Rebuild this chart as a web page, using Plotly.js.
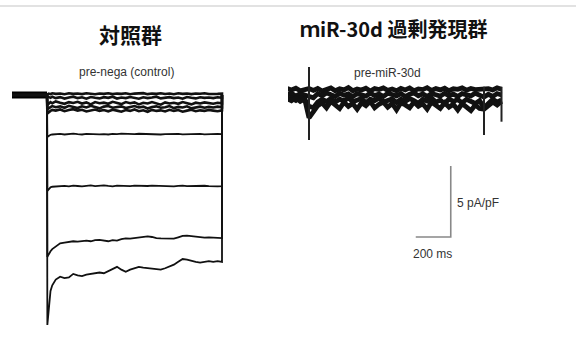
<!DOCTYPE html>
<html><head><meta charset="utf-8">
<script src="https://cdn.plot.ly/plotly-3.0.1.min.js"></script>
<style>html,body{margin:0;padding:0;background:#fff;}#chart{width:576px;height:339px;}</style>
</head><body><div id="chart"></div>
<script>
// ---- Data (time in ms, current density in pA/pF) ----
const holdT = [-200, 0];
const holdI = 0;
const endT = 1000;
// sample times during the depolarising step (control cell)
const stepT = [2,10,20,30,50,75,100,125,150,175,200,225,250,275,300,325,350,375,400,425,450,475,500,525,550,575,600,625,650,675,700,725,750,775,800,825,850,875,900,925,950,975,1000];

// control (pre-nega) current traces
const ctrl1 = [0.05,0.1,0.06,0.12,0.08,0.1,0.05,0.12,0.08,0.1, 0.06,0.12,0.09,0.05,0.11,0.08,0.12,0.06,0.1,0.08, 0.12,0.05,0.1,0.09,0.13,0.06,0.1,0.08,0.12,0.07, 0.1,0.05,0.12,0.08,0.1,0.06,0.11,0.09,0.12,0.07, 0.1,0.08,0.1];
const ctrl2 = [-0.1,-0.15,-0.2,-0.12,-0.22,-0.15,-0.25,-0.18,-0.12,-0.22, -0.16,-0.26,-0.14,-0.2,-0.24,-0.15,-0.2,-0.12,-0.25,-0.18, -0.22,-0.14,-0.2,-0.26,-0.16,-0.22,-0.18,-0.12,-0.24,-0.2, -0.15,-0.22,-0.18,-0.26,-0.14,-0.2,-0.24,-0.16,-0.2,-0.18, -0.22,-0.16,-0.2];
const ctrl3 = [-0.7,-0.6,-0.5,-0.58,-0.45,-0.55,-0.62,-0.5,-0.56,-0.48, -0.6,-0.52,-0.66,-0.5,-0.58,-0.54,-0.62,-0.48,-0.56,-0.64, -0.5,-0.58,-0.52,-0.66,-0.55,-0.6,-0.5,-0.58,-0.68,-0.52, -0.6,-0.55,-0.62,-0.5,-0.58,-0.66,-0.54,-0.6,-0.52,-0.58, -0.62,-0.55,-0.58];
const ctrl4 = [-1.0,-0.9,-0.85,-0.78,-0.86,-0.8,-0.9,-0.76,-0.84,-0.92, -0.8,-0.88,-0.76,-0.86,-0.94,-0.82,-0.78,-0.9,-0.84,-0.8, -0.92,-0.86,-0.78,-0.88,-0.82,-0.95,-0.84,-0.8,-0.9,-0.86, -0.78,-0.92,-0.84,-0.88,-0.8,-0.94,-0.86,-0.82,-0.9,-0.84, -0.88,-0.82,-0.86];
const ctrl5 = [-1.3,-1.2,-1.12,-1.05,-1.1,-1.02,-1.14,-1.06,-1.0,-1.1, -1.04,-1.16,-1.08,-1.02,-1.12,-1.06,-1.15,-1.04,-1.1,-1.18, -1.06,-1.12,-1.02,-1.14,-1.08,-1.18,-1.05,-1.12,-1.08,-1.16, -1.04,-1.12,-1.06,-1.18,-1.1,-1.04,-1.14,-1.08,-1.12,-1.06, -1.1,-1.14,-1.08];
const ctrl6 = [-2.95,-2.85,-2.8,-2.78,-2.76,-2.74,-2.78,-2.75,-2.72,-2.76, -2.78,-2.74,-2.76,-2.73,-2.77,-2.75,-2.78,-2.74,-2.76,-2.72, -2.75,-2.78,-2.76,-2.73,-2.75,-2.77,-2.74,-2.76,-2.78,-2.75, -2.73,-2.76,-2.74,-2.77,-2.75,-2.78,-2.76,-2.74,-2.77,-2.75, -2.76,-2.74,-2.76];
const ctrl7 = [-6.75,-6.6,-6.5,-6.46,-6.44,-6.42,-6.4,-6.43,-6.38,-6.41, -6.44,-6.4,-6.37,-6.42,-6.39,-6.36,-6.4,-6.43,-6.38,-6.41, -6.39,-6.42,-6.38,-6.4,-6.44,-6.41,-6.38,-6.4,-6.42,-6.39, -6.41,-6.44,-6.4,-6.38,-6.42,-6.4,-6.43,-6.41,-6.39,-6.42, -6.4,-6.43,-6.42];
const ctrl8 = [-11.4,-11.2,-11.0,-10.85,-10.65,-10.45,-10.4,-10.33,-10.3,-10.32, -10.28,-10.25,-10.3,-10.22,-10.2,-10.25,-10.3,-10.22,-10.25,-10.15, -10.1,-10.12,-10.08,-10.02,-9.98,-9.95,-10.0,-10.08,-10.1,-10.12, -10.15,-10.12,-10.02,-9.92,-9.9,-9.95,-10.0,-10.02,-10.05,-10.02, -10.04,-10.08,-10.08];
const ctrl9 = [-16.2,-14.8,-13.8,-13.4,-13.0,-12.8,-12.9,-12.85,-12.6,-12.7, -12.75,-12.65,-12.6,-12.55,-12.5,-12.55,-12.4,-12.2,-12.1,-12.3, -12.45,-12.3,-12.2,-12.1,-12.15,-12.2,-12.25,-12.3,-12.3,-12.2, -12.1,-11.95,-11.75,-11.55,-11.6,-11.7,-11.75,-11.8,-11.75,-11.7, -11.75,-11.7,-11.75];
const ctrlTraces = [ctrl1, ctrl2, ctrl3, ctrl4, ctrl5, ctrl6, ctrl7, ctrl8, ctrl9];

// pre-miR-30d traces
const mirT = [-200,-175,-150,-125,-100,-75,-50,-25,0,25,50,75,100,125,150,175,200,225,250,275,300,325,350,375,400,425,450,475,500,525,550,575,600,625,650,675,700,725,750,775,800,825,850,875,900,925,950,975,1000,1025,1050,1075,1100];
const mir1 = [0.3,0.42,0.28,0.45,0.35,0.48,0.3,0.4, 0.45, 0.32,0.46,0.28,0.4,0.5,0.3,0.44,0.36,0.52,0.3,0.42,0.35,0.48,0.28,0.45,0.38,0.5,0.33,0.42,0.3,0.47,0.36,0.5,0.3,0.43,0.38,0.52,0.32,0.45,0.36,0.48,0.3,0.44,0.4,0.5,0.34,0.46,0.38,0.42, 0.4, 0.45,0.35,0.5,0.4];
const mir2 = [0.1,-0.05,0.15,0.0,0.12,-0.08,0.1,0.02, -0.1, -0.2,0.1,-0.05,0.15,0.0,-0.1,0.12,-0.02,0.08,-0.12,0.1,0.0,-0.08,0.14,-0.04,0.06,-0.1,0.12,0.0,-0.06,0.1,-0.12,0.05,0.15,-0.05,0.08,-0.1,0.1,0.02,-0.08,0.12,-0.04,0.06,-0.1,0.1,0.0,-0.06,0.12,-0.02, -0.15, 0.05,-0.1,0.1,0.0];
const mir3 = [-0.2,-0.35,-0.15,-0.3,-0.22,-0.38,-0.18,-0.3, -0.8, -0.9,-0.5,-0.3,-0.45,-0.25,-0.5,-0.3,-0.42,-0.2,-0.48,-0.35,-0.25,-0.55,-0.3,-0.4,-0.22,-0.5,-0.35,-0.28,-0.52,-0.3,-0.45,-0.25,-0.4,-0.58,-0.3,-0.42,-0.22,-0.5,-0.35,-0.6,-0.28,-0.45,-0.32,-0.55,-0.3,-0.48,-0.6,-0.4, -0.9, -0.6,-0.3,-0.5,-0.35];
const mir4 = [-0.35,-0.15,-0.42,-0.25,-0.4,-0.2,-0.45,-0.28, -1.6, -1.2,-0.75,-0.55,-0.9,-0.45,-0.7,-0.95,-0.5,-0.8,-0.6,-1.0,-0.55,-0.75,-0.45,-0.9,-0.65,-0.5,-0.85,-0.6,-1.05,-0.55,-0.7,-0.9,-0.5,-0.8,-0.62,-1.0,-0.5,-0.75,-0.95,-0.55,-0.85,-0.65,-1.05,-0.6,-0.8,-1.1,-0.7,-0.95, -1.0, -0.8,-0.5,-0.7,-0.45];
const mirTraces = [mir1, mir2, mir3, mir4];
// capacitive transients (time, top, bottom)
const spikeT = [0, 1000, 1100];
const spikeTop = [1.97, 0.58, 0.58];
const spikeBot = [-3.17, -2.82, -1.88];

// scale bar: 200 ms x 5 pA/pF
const barT = [610, 810];
const barI = [-10, -5];

// labels
const titleCtrl = "対照群";
const titleMir = "ｍiR-30d 過剰発現群";
const labelCtrl = "pre-nega (control)";
const labelMir = "pre-miR-30d";
const barLabelI = "5 pA/pF";
const barLabelT = "200 ms";

// ---- build traces ----
const traces = [];
// thick holding segment (overlap of all sweeps)
traces.push({x: holdT, y: [holdI, holdI], xaxis: 'x', yaxis: 'y', mode: 'lines', line: {color: '#000', width: 7}, hoverinfo: 'skip'});
ctrlTraces.forEach((v, i) => {
  traces.push({
    x: holdT.concat(stepT, [endT]),
    y: [holdI, holdI].concat(v, [holdI]),
    xaxis: 'x', yaxis: 'y', mode: 'lines',
    line: {color: '#111', width: i < 5 ? 2.6 : 1.8}, hoverinfo: 'skip'
  });
});
mirTraces.forEach(v => {
  traces.push({x: mirT, y: v, xaxis: 'x2', yaxis: 'y', mode: 'lines', line: {color: '#111', width: 4.8}, hoverinfo: 'skip'});
});
const sx = [], sy = [];
spikeT.forEach((t, i) => { sx.push(t, t, null); sy.push(spikeTop[i], spikeBot[i], null); });
traces.push({x: sx, y: sy, xaxis: 'x2', yaxis: 'y', mode: 'lines', line: {color: '#222', width: 2}, hoverinfo: 'skip'});
// scale bar
traces.push({x: [barT[0], barT[1], barT[1]], y: [barI[0], barI[0], barI[1]], xaxis: 'x2', yaxis: 'y', mode: 'lines', line: {color: '#888', width: 1.6}, hoverinfo: 'skip'});

const W = 576, H = 339;
const pxPerMs = 0.175, pxPerI = 14.2, zeroPy = 95;
const leftZero = 47, rightZero = 309;
const labelFont = {family: "'Liberation Sans Narrow', 'Arial Narrow', Arial, sans-serif", size: 12, color: '#333'};
const titleFont = {family: "'Noto Sans CJK JP', sans-serif", size: 20, color: '#111'};

const layout = {
  width: W, height: H,
  margin: {l: 0, r: 0, t: 0, b: 0},
  paper_bgcolor: '#fff', plot_bgcolor: '#fff',
  showlegend: false,
  xaxis: {domain: [0, 0.5], range: [-leftZero / pxPerMs, (W / 2 - leftZero) / pxPerMs], visible: false, fixedrange: true},
  xaxis2: {domain: [0.5, 1], anchor: 'y', range: [(W / 2 - rightZero) / pxPerMs, (W - rightZero) / pxPerMs], visible: false, fixedrange: true},
  yaxis: {range: [(zeroPy - H) / pxPerI, zeroPy / pxPerI], visible: false, fixedrange: true},
  shapes: [{type: 'line', xref: 'paper', yref: 'paper', x0: 0, x1: 1, y0: 1 - 6 / H, y1: 1 - 6 / H, line: {color: '#e2e2e2', width: 2}}],
  annotations: [
    {text: '<b>' + titleCtrl + '</b>', xref: 'paper', yref: 'paper', x: 130 / W, y: 1 - 34 / H, showarrow: false, font: Object.assign({}, titleFont, {size: 21}), xanchor: 'center', yanchor: 'middle'},
    {text: '<b>' + titleMir + '</b>', xref: 'paper', yref: 'paper', x: 393 / W, y: 1 - 28 / H, showarrow: false, font: titleFont, xanchor: 'center', yanchor: 'middle'},
    {text: labelCtrl, xref: 'paper', yref: 'paper', x: 126 / W, y: 1 - 72 / H, showarrow: false, font: labelFont, xanchor: 'center', yanchor: 'middle'},
    {text: labelMir, xref: 'paper', yref: 'paper', x: 387 / W, y: 1 - 73 / H, showarrow: false, font: labelFont, xanchor: 'center', yanchor: 'middle'},
    {text: barLabelI, xref: 'x2', yref: 'y', x: 834, y: -7.6, showarrow: false, font: labelFont, xanchor: 'left', yanchor: 'middle'},
    {text: barLabelT, xref: 'x2', yref: 'y', x: 703, y: -11.2, showarrow: false, font: labelFont, xanchor: 'center', yanchor: 'middle'}
  ]
};
Plotly.newPlot('chart', traces, layout, {staticPlot: true, displayModeBar: false});
</script></body></html>
